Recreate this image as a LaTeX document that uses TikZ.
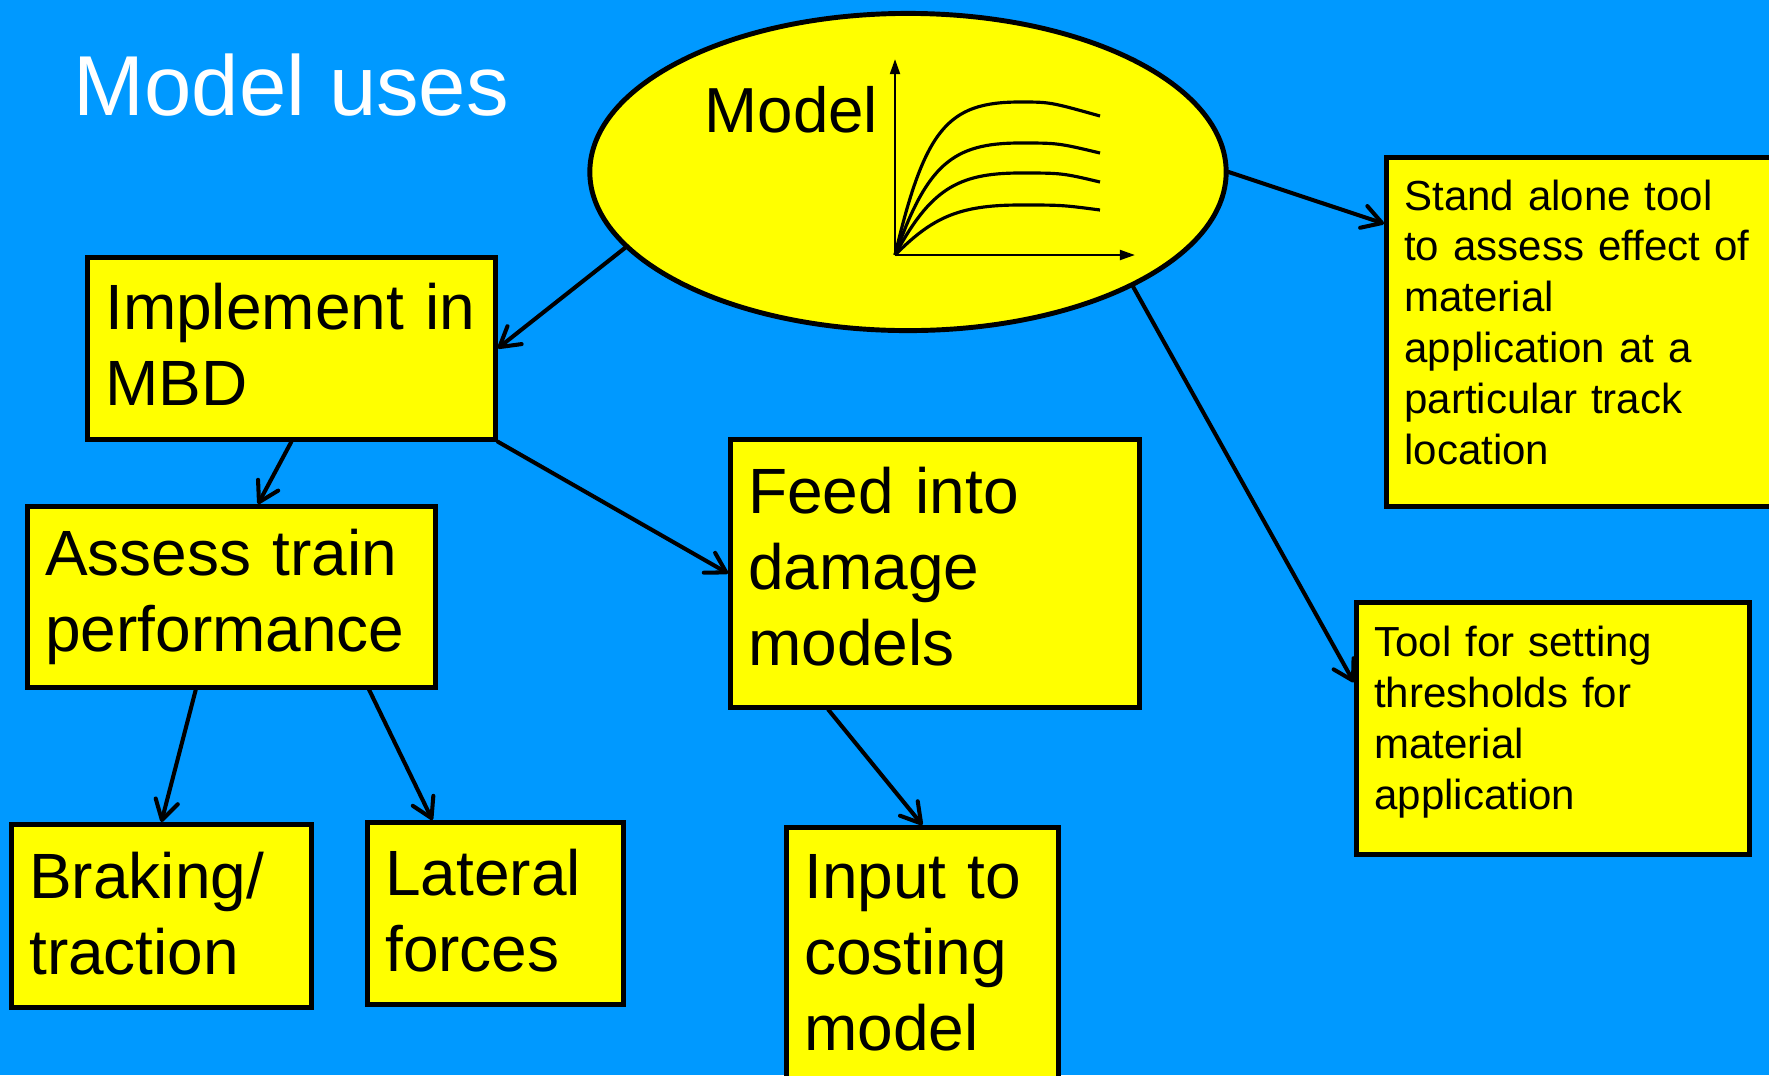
\documentclass[tikz,border=0pt]{standalone}
\usepackage{fontspec}
\setmainfont{Liberation Sans}
\usetikzlibrary{shapes.geometric,arrows.meta}

\definecolor{slideBlue}{HTML}{0099FF}
\definecolor{boxYellow}{HTML}{FFFF00}
\newcommand{\boxfont}{\fontsize{18.2pt}{21.6pt}\selectfont}
\newcommand{\notefont}{\fontsize{11.95pt}{14.45pt}\selectfont}
% invisible strut that deepens the last line, so the text sits higher
\newcommand{\padbelow}[1]{\rule[-#1]{0pt}{#1}}

\tikzset{
  usebox/.style={draw=black, line width=1.3pt, fill=boxYellow, anchor=north west,
    align=left, inner xsep=0.18cm, inner ysep=0pt, font=\boxfont},
  notebox/.style={usebox, font=\notefont},
  link/.style={draw=black, line width=1.15pt, line cap=round,
    -{Straight Barb[length=5.5pt,width=6.5pt,round]}},
  curve/.style={line width=0.9pt},
  axis/.style={line width=0.7pt, -{Triangle[length=4.3pt,width=2.8pt]}},
}

\begin{document}
\begin{tikzpicture}[x=0.01cm,y=-0.01cm]
\useasboundingbox (0,0) rectangle (1769,1075);
\fill[slideBlue] (0,0) rectangle (1769,1075);

% title
\node[text=white, anchor=base west, inner sep=0pt, font=\fontsize{24.2pt}{29pt}\selectfont] (title) at (73,115) {Model uses};

% the model
\node[ellipse, draw=black, line width=1.4pt, fill=boxYellow, minimum width=6.36cm, minimum height=3.17cm, inner sep=0pt] (model) at (908,172) {};
\node[anchor=base west, inner sep=0pt, font=\fontsize{18.1pt}{21pt}\selectfont] (modellabel) at (704,132) {Model};
\coordinate (origin) at (895,255);
\coordinate (ytop) at (895,59);
\coordinate (xend) at (1135,255);
\draw[axis] (origin) -- (ytop);
\draw[axis] (origin) -- (xend);
\draw[curve] (origin) .. controls (925,128) and (948,102) .. (1020,102) .. controls (1050,102) .. (1100,116);
\draw[curve] (origin) .. controls (927,165) and (952,143) .. (1020,143) .. controls (1058,143) .. (1100,153);
\draw[curve] (origin) .. controls (930,190) and (957,173) .. (1020,173) .. controls (1062,173) .. (1100,182);
\draw[curve] (origin) .. controls (932,218) and (958,205) .. (1020,205) .. controls (1062,205) .. (1100,210);

% boxes
\node[usebox, text width=3.72cm, minimum height=1.82cm] (impl) at (85,255) {Implement in\\MBD\padbelow{0.08cm}};
\node[usebox, text width=3.72cm, minimum height=1.81cm] (assess) at (25,504) {Assess train\\performance};
\node[usebox, text width=3.73cm, minimum height=2.68cm] (feed) at (728,437) {Feed into\\damage\\models\padbelow{0.14cm}};
\node[usebox, text width=2.64cm, minimum height=1.83cm] (brake) at (9,822) {Braking/\\traction\padbelow{0.06cm}};
\node[usebox, text width=2.20cm, minimum height=1.82cm] (lateral) at (365,820) {Lateral\\forces\padbelow{0.06cm}};
\node[usebox, text width=2.36cm, minimum height=2.55cm] (input) at (784,825) {Input to\\costing\\model\padbelow{0.04cm}};
\node[notebox, text width=3.84cm, minimum height=3.49cm] (stand) at (1384,155) {Stand alone tool\\to assess effect of\\material\\application at a\\particular track\\location\padbelow{0.2cm}};
\node[notebox, text width=3.57cm, minimum height=2.52cm] (thresh) at (1354,600) {Tool for setting\\thresholds for\\material\\application\padbelow{0.21cm}};

% arrows
\draw[link] (model.195) -- (impl.east);
\draw[link] (impl.south) -- (assess.74.6);
\draw[link] (impl.south east) -- (feed.west);
\draw[link] (assess.249) -- (brake.north);
\draw[link] (assess.326) -- (lateral.124);
\draw[link] (feed.232) -- (input.north);
\draw[link] (model.east) -- (stand.153.4);
\draw[link] (model.333) -- (thresh.167);
\end{tikzpicture}
\end{document}
